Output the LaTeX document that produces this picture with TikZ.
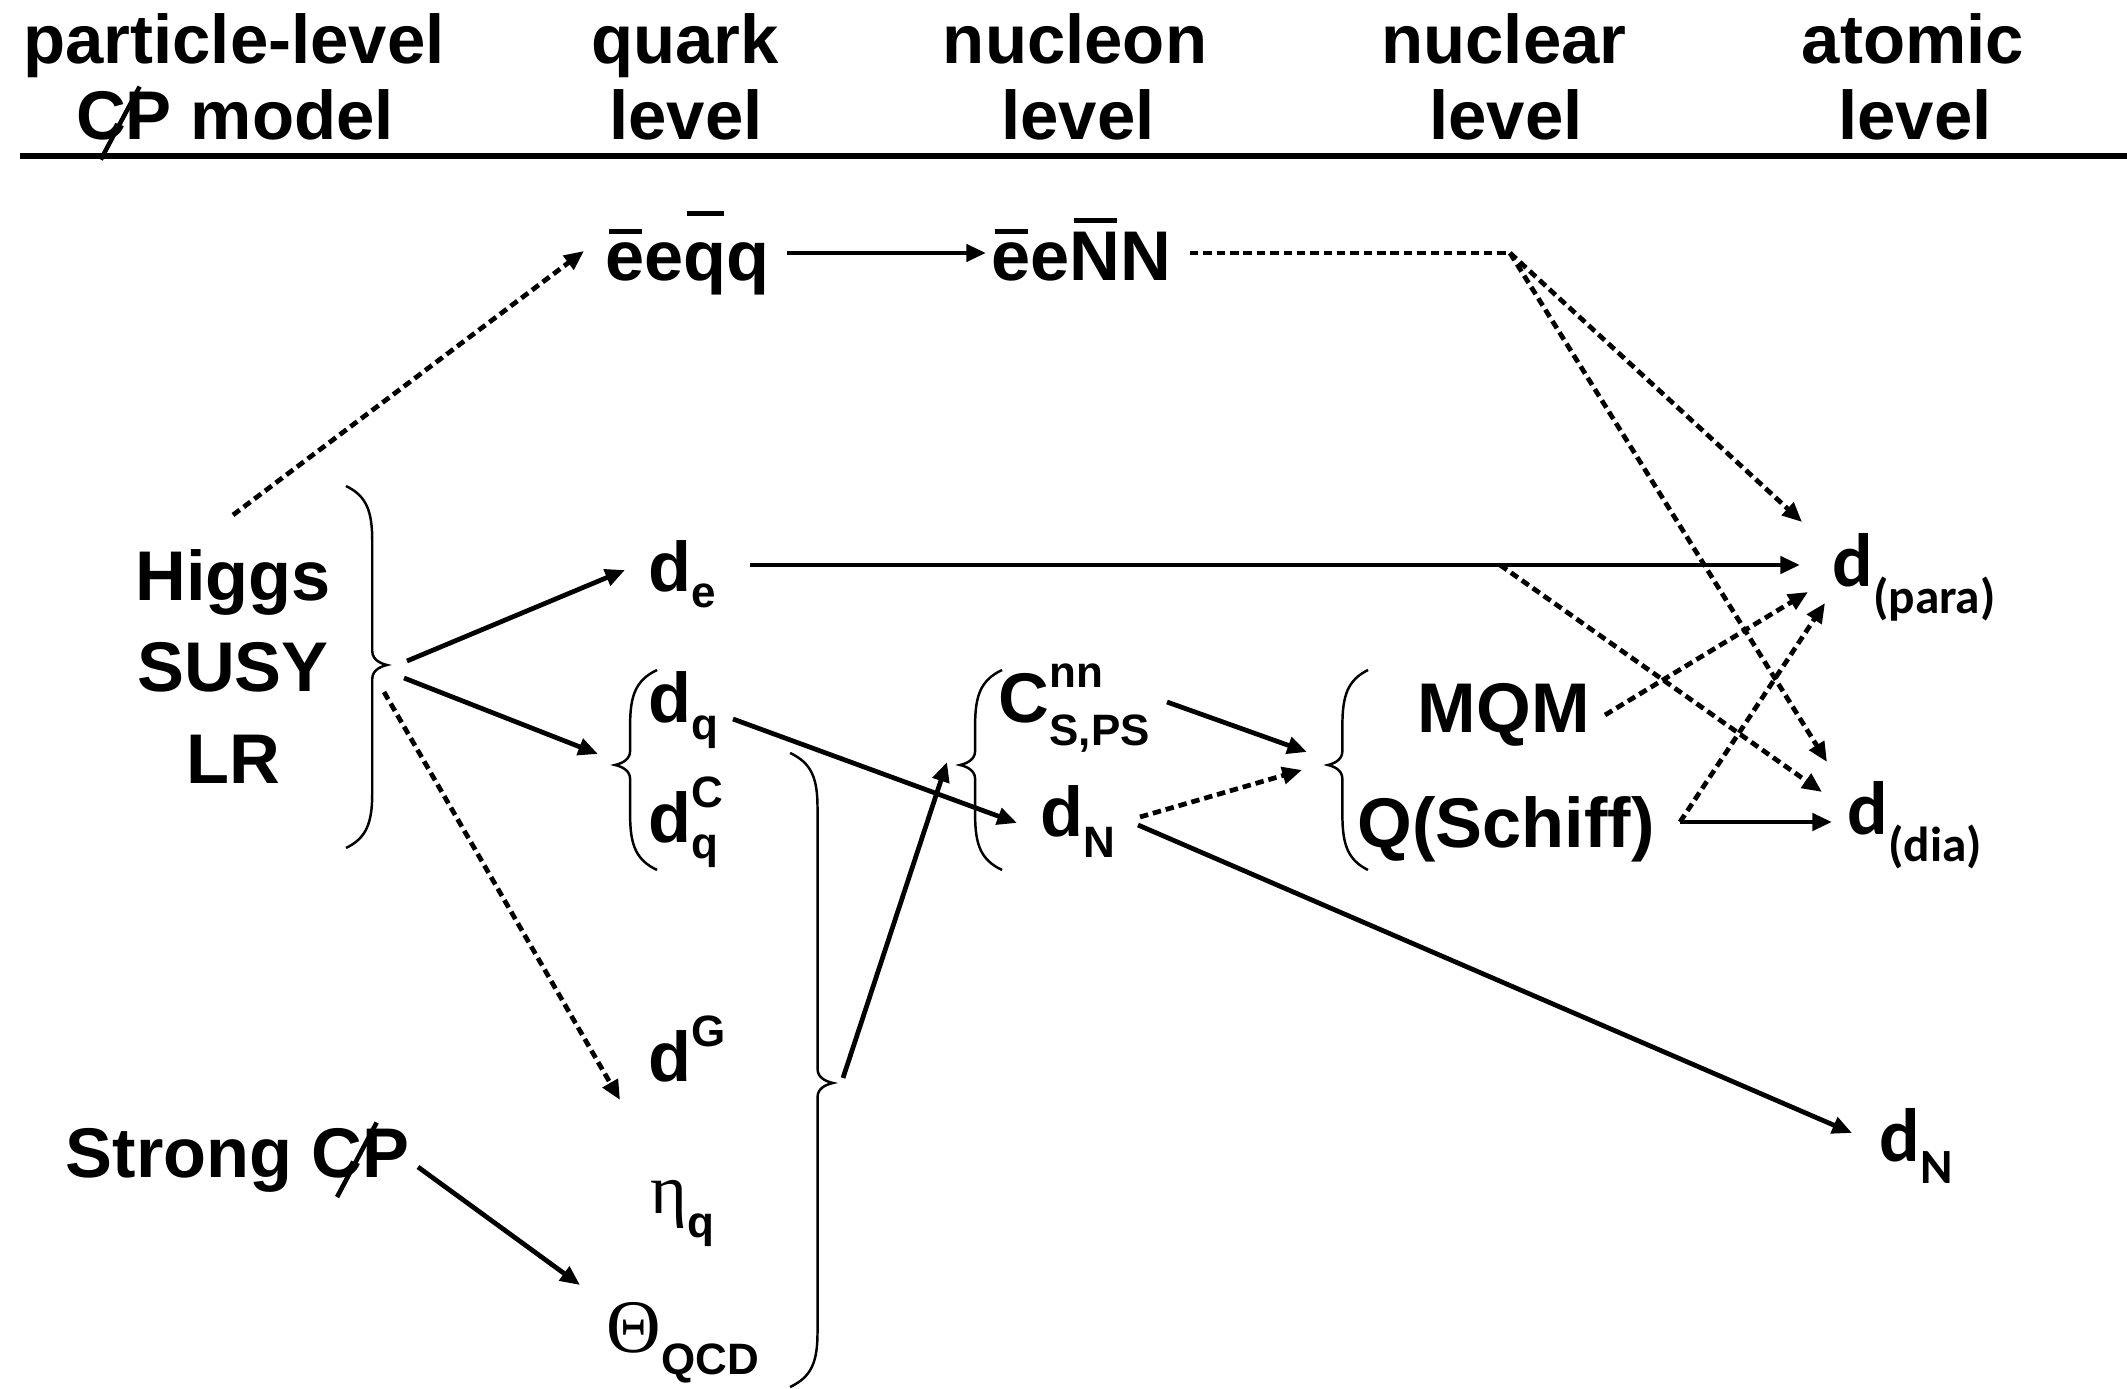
\documentclass[tikz,border=0pt]{standalone}
\usepackage{fontspec}
\setmainfont{Liberation Sans}
\newfontfamily\calib{Carlito}
\newfontfamily\grk{Liberation Serif}
\usetikzlibrary{arrows.meta}

\newcommand{\sbx}[2][5pt]{\raisebox{-#1}{\fontsize{12.5}{14}\selectfont #2}}
\newcommand{\spx}[2][10pt]{\raisebox{#1}{\fontsize{12.5}{14}\selectfont #2}}
\newcommand{\slc}{\rlap{\kern0.33em\raisebox{-0.3em}{\rotatebox{62}{\rule{1.2em}{0.065em}}}}C}
\newsavebox\ovbox
\newcommand{\ovb}[2]{\sbox\ovbox{#2}\rlap{\hbox to \wd\ovbox{\hss\raisebox{#1}{\rule{0.85\wd\ovbox}{1.3pt}}\hss}}#2}
% brace: #1 x of ends, #2 x of tip, #3 y top, #4 y tip, #5 y bottom
\newcommand{\brc}[5]{%
 \draw[brc] (#1,#3) .. controls ({#2+0.5*(#1-#2)},{#3+10}) and ({#2+0.36*(#1-#2)},{#3+25}) .. ({#2+0.36*(#1-#2)},{#3+55})
 -- ({#2+0.36*(#1-#2)},{#4-14}) .. controls ({#2+0.36*(#1-#2)},{#4-4}) and ({#2+0.1*(#1-#2)},{#4-1}) .. (#2,#4)
 .. controls ({#2+0.1*(#1-#2)},{#4+1}) and ({#2+0.36*(#1-#2)},{#4+4}) .. ({#2+0.36*(#1-#2)},{#4+14})
 -- ({#2+0.36*(#1-#2)},{#5-55}) .. controls ({#2+0.36*(#1-#2)},{#5-25}) and ({#2+0.5*(#1-#2)},{#5-10}) .. (#1,#5);}

\tikzset{
 txt/.style={inner sep=0pt, font=\bfseries\fontsize{20}{24}\selectfont},
 hdr/.style={inner sep=0pt, anchor=base, font=\bfseries\fontsize{19.6}{24}\selectfont},
 ctr/.style={txt, anchor=base},
 lbl/.style={txt, anchor=base west},
 cal/.style={inner sep=0pt, anchor=base west, font=\calib\bfseries\fontsize{21.5}{24}\selectfont},
 arr/.style={line width=1.35pt, -{Triangle[length=5.6pt,width=4.8pt]}},
 darr/.style={arr, dash pattern=on 2.4pt off 1.4pt},
 dln/.style={line width=1.35pt, dash pattern=on 2.4pt off 1.4pt},
 brc/.style={line width=0.7pt},
}

\begin{document}
\begin{tikzpicture}[x=0.01cm, y=-0.01cm]
\useasboundingbox (0,0) rectangle (2127,1389);

% header
\node[hdr] (h1a) at (234,64) {particle-level};
\node[hdr] (h1b) at (235,140) {\slc P model};
\node[hdr] (h2a) at (685,64) {quark};
\node[hdr] (h2b) at (686,140) {level};
\node[hdr] (h3a) at (1075,64) {nucleon};
\node[hdr] (h3b) at (1078,140) {level};
\node[hdr] (h4a) at (1504,64) {nuclear};
\node[hdr] (h4b) at (1506,140) {level};
\node[hdr] (h5a) at (1913,64) {atomic};
\node[hdr] (h5b) at (1915,140) {level};
\coordinate (ruleL) at (20,156);
\coordinate (ruleR) at (2127,156);
\draw[line width=1.5pt] (ruleL) -- (ruleR);

% particle level
\node[ctr] (higgs) at (233,601) {Higgs};
\node[ctr] (susy) at (233,692) {SUSY};
\node[ctr] (lr) at (233,784) {LR};
\node[lbl] (strong) at (65,1177) {Strong \slc P};

% quark level
\node[lbl] (eeqq) at (605,281) {\ovb{13.5pt}{e}e\ovb{18.5pt}{q}q};
\node[lbl] (de) at (648,592) {d\sbx[4.3pt]{e}};
\node[lbl] (dq) at (648,723) {d\sbx[4.8pt]{q}};
\node[lbl] (dqc) at (648,843) {d\rlap{\spx[10.2pt]{C}}\sbx[4.3pt]{q}};
\node[lbl] (dg) at (648,1082) {d\spx[10pt]{G}};
\node[lbl] (eta) at (650,1213) {{\grk\mdseries η}\sbx[7pt]{q}};
\node[lbl] (theta) at (606,1352) {{\grk\mdseries\fontsize{21.5}{24}\selectfont Θ}\sbx[6.5pt]{QCD}};

% nucleon level
\node[lbl] (eeNN) at (991,281) {\ovb{13.5pt}{e}e\ovb{16.5pt}{N}N};
\node[lbl] (cnn) at (998,723) {C\rlap{\spx[10pt]{nn}}\sbx[6.3pt]{S,PS}};
\node[lbl] (dN) at (1040,837) {d\sbx[5.7pt]{N}};

% nuclear level
\node[lbl] (mqm) at (1417,733) {MQM};
\node[lbl] (schiff) at (1357,848) {Q(Schiff)};

% atomic level
\node[cal] (dpara) at (1832,587) {d\raisebox{-7.4pt}{\fontsize{14}{16}\selectfont (para)}};
\node[cal] (ddia) at (1847,835) {d\raisebox{-7.4pt}{\fontsize{14}{16}\selectfont (dia)}};
\node[cal] (dNat) at (1879,1162) {d\raisebox{-6pt}{\fontsize{14}{16}\selectfont N}};

% braces
\brc{346}{387}{486}{665}{848}
\brc{657}{615}{670}{765}{870}
\brc{790}{833}{753}{1083}{1387}
\brc{1002}{960}{670}{765}{870}
\brc{1368}{1328}{670}{765}{870}

% connector end points
\coordinate (hub) at (1510,253);
\coordinate (dejoin) at (1500,565);
\coordinate (qsJ) at (1680,822);
\coordinate (eeqqR) at (787,253);
\coordinate (eeNNL) at (986,253);
\coordinate (eeNNR) at (1190,253);
\coordinate (dparaA1) at (1802,522);
\coordinate (ddiaA1) at (1827,762);
\coordinate (deR) at (750,565);
\coordinate (dparaA2) at (1800,565);
\coordinate (ddiaA2) at (1822,792);
\coordinate (mqmR) at (1605,715);
\coordinate (dparaA3) at (1808,592);
\coordinate (dparaA4) at (1825,603);
\coordinate (ddiaA3) at (1832,822);
\coordinate (higgsTop) at (233,515);
\coordinate (eeqqL) at (584,251);
\coordinate (hbr1) at (407,661);
\coordinate (deL) at (625,570);
\coordinate (hbr2) at (404,678);
\coordinate (dqbr) at (598,754);
\coordinate (hbr3) at (384,692);
\coordinate (dgL) at (620,1100);
\coordinate (bigtip) at (843,1078);
\coordinate (cbr) at (947,762);
\coordinate (dqR) at (733,719);
\coordinate (dNL) at (1017,823);
\coordinate (cnnR) at (1167,702);
\coordinate (mbrA) at (1307,752);
\coordinate (dNR) at (1140,817);
\coordinate (mbrB) at (1302,770);
\coordinate (dNR2) at (1138,825);
\coordinate (dNatL) at (1852,1133);
\coordinate (strongR) at (418,1167);
\coordinate (thetaL) at (580,1285);

% connectors
\draw[arr] (eeqqR) -- (eeNNL);
\draw[dln] (eeNNR) -- (hub);
\draw[darr] (hub) -- (dparaA1);
\draw[darr] (hub) -- (ddiaA1);
\draw[arr] (deR) -- (dparaA2);
\draw[darr] (dejoin) -- (ddiaA2);
\draw[darr] (mqmR) -- (dparaA3);
\draw[darr] (qsJ) -- (dparaA4);
\draw[arr] (qsJ) -- (ddiaA3);
\draw[darr] (higgsTop) -- (eeqqL);
\draw[arr] (hbr1) -- (deL);
\draw[arr] (hbr2) -- (dqbr);
\draw[darr] (hbr3) -- (dgL);
\draw[arr] (bigtip) -- (cbr);
\draw[arr] (dqR) -- (dNL);
\draw[arr] (cnnR) -- (mbrA);
\draw[darr] (dNR) -- (mbrB);
\draw[arr] (dNR2) -- (dNatL);
\draw[arr] (strongR) -- (thetaL);
\end{tikzpicture}
\end{document}
